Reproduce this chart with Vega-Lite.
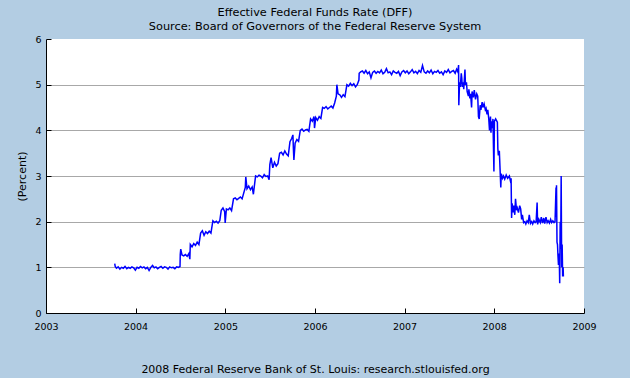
{
  "$schema": "https://vega.github.io/schema/vega-lite/v6.json",
  "width": 538,
  "height": 274,
  "autosize": {"type": "none"},
  "padding": {"left": 46, "top": 39, "right": 46, "bottom": 65},
  "background": "#B3CDE3",
  "config": {
    "font": "DejaVu Sans",
    "view": {"fill": "white", "stroke": null},
    "axis": {"domainColor": "black", "tickColor": "black", "labelColor": "black", "titleColor": "black", "labelFontSize": 9.5, "titleFontSize": 11, "titleFontWeight": "normal", "labelFont": "DejaVu Sans", "titleFont": "DejaVu Sans"}
  },
  "title": {
    "text": ["Effective Federal Funds Rate (DFF)", "Source: Board of Governors of the Federal Reserve System"],
    "fontSize": 11.3, "fontWeight": "normal", "font": "DejaVu Sans", "color": "black",
    "anchor": "middle", "frame": "group", "offset": 2, "lineHeight": 14
  },
  "data": {"values": [
    {"date":"2003-10-08","rate":1.08},{"date":"2003-10-10","rate":1.02},{"date":"2003-10-15","rate":0.98},{"date":"2003-10-22","rate":1.01},{"date":"2003-10-29","rate":0.96},
    {"date":"2003-11-05","rate":1.00},{"date":"2003-11-12","rate":0.98},{"date":"2003-11-19","rate":1.02},{"date":"2003-11-26","rate":0.97},
    {"date":"2003-12-03","rate":1.00},{"date":"2003-12-10","rate":0.98},{"date":"2003-12-17","rate":1.01},{"date":"2003-12-24","rate":0.99},{"date":"2003-12-31","rate":0.94},
    {"date":"2004-01-07","rate":1.00},{"date":"2004-01-14","rate":0.98},{"date":"2004-01-21","rate":1.02},{"date":"2004-01-28","rate":0.99},
    {"date":"2004-02-04","rate":1.01},{"date":"2004-02-11","rate":0.97},{"date":"2004-02-18","rate":1.00},{"date":"2004-02-25","rate":0.93},
    {"date":"2004-03-03","rate":1.00},{"date":"2004-03-10","rate":1.04},{"date":"2004-03-17","rate":0.99},{"date":"2004-03-24","rate":1.01},{"date":"2004-03-31","rate":0.97},
    {"date":"2004-04-07","rate":1.00},{"date":"2004-04-14","rate":1.02},{"date":"2004-04-21","rate":0.98},{"date":"2004-04-28","rate":1.01},
    {"date":"2004-05-05","rate":1.00},{"date":"2004-05-12","rate":0.96},{"date":"2004-05-19","rate":1.01},{"date":"2004-05-26","rate":0.99},
    {"date":"2004-06-02","rate":1.00},{"date":"2004-06-09","rate":0.97},{"date":"2004-06-16","rate":1.01},{"date":"2004-06-23","rate":1.00},{"date":"2004-06-30","rate":1.02},
    {"date":"2004-07-01","rate":1.28},{"date":"2004-07-03","rate":1.40},{"date":"2004-07-08","rate":1.27},{"date":"2004-07-15","rate":1.25},{"date":"2004-07-22","rate":1.28},{"date":"2004-07-29","rate":1.24},
    {"date":"2004-08-05","rate":1.30},{"date":"2004-08-09","rate":1.18},{"date":"2004-08-11","rate":1.50},{"date":"2004-08-18","rate":1.45},{"date":"2004-08-25","rate":1.52},
    {"date":"2004-09-01","rate":1.48},{"date":"2004-09-08","rate":1.55},{"date":"2004-09-15","rate":1.50},{"date":"2004-09-22","rate":1.75},{"date":"2004-09-29","rate":1.80},
    {"date":"2004-10-06","rate":1.70},{"date":"2004-10-13","rate":1.78},{"date":"2004-10-20","rate":1.74},{"date":"2004-10-27","rate":1.79},
    {"date":"2004-11-03","rate":1.75},{"date":"2004-11-11","rate":2.02},{"date":"2004-11-18","rate":1.98},{"date":"2004-11-25","rate":2.01},
    {"date":"2004-12-02","rate":1.97},{"date":"2004-12-09","rate":2.02},{"date":"2004-12-15","rate":2.25},{"date":"2004-12-22","rate":2.30},{"date":"2004-12-29","rate":2.22},{"date":"2004-12-31","rate":1.97},
    {"date":"2005-01-05","rate":2.28},{"date":"2005-01-12","rate":2.26},{"date":"2005-01-19","rate":2.30},{"date":"2005-01-26","rate":2.24},
    {"date":"2005-02-03","rate":2.50},{"date":"2005-02-10","rate":2.52},{"date":"2005-02-17","rate":2.48},{"date":"2005-02-24","rate":2.51},
    {"date":"2005-03-03","rate":2.54},{"date":"2005-03-10","rate":2.50},{"date":"2005-03-23","rate":2.75},{"date":"2005-03-25","rate":2.98},{"date":"2005-03-30","rate":2.72},
    {"date":"2005-04-06","rate":2.78},{"date":"2005-04-13","rate":2.70},{"date":"2005-04-20","rate":2.76},{"date":"2005-04-25","rate":2.60},{"date":"2005-04-28","rate":2.74},
    {"date":"2005-05-04","rate":3.00},{"date":"2005-05-11","rate":2.98},{"date":"2005-05-18","rate":3.02},{"date":"2005-05-25","rate":3.00},
    {"date":"2005-06-01","rate":2.96},{"date":"2005-06-08","rate":3.03},{"date":"2005-06-15","rate":2.99},{"date":"2005-06-22","rate":3.00},{"date":"2005-06-28","rate":2.92},
    {"date":"2005-07-01","rate":3.25},{"date":"2005-07-06","rate":3.40},{"date":"2005-07-13","rate":3.18},{"date":"2005-07-20","rate":3.30},{"date":"2005-07-27","rate":3.22},
    {"date":"2005-08-03","rate":3.27},{"date":"2005-08-10","rate":3.50},{"date":"2005-08-17","rate":3.52},{"date":"2005-08-24","rate":3.46},{"date":"2005-08-31","rate":3.55},
    {"date":"2005-09-07","rate":3.48},{"date":"2005-09-14","rate":3.44},{"date":"2005-09-21","rate":3.75},{"date":"2005-09-28","rate":3.82},
    {"date":"2005-10-03","rate":3.90},{"date":"2005-10-05","rate":3.60},{"date":"2005-10-07","rate":3.35},{"date":"2005-10-12","rate":3.72},{"date":"2005-10-19","rate":3.80},{"date":"2005-10-26","rate":3.76},
    {"date":"2005-11-02","rate":4.00},{"date":"2005-11-09","rate":4.03},{"date":"2005-11-16","rate":3.98},{"date":"2005-11-23","rate":4.01},{"date":"2005-11-30","rate":4.02},
    {"date":"2005-12-07","rate":3.98},{"date":"2005-12-14","rate":4.25},{"date":"2005-12-21","rate":4.20},{"date":"2005-12-28","rate":4.30},{"date":"2005-12-30","rate":4.05},
    {"date":"2006-01-04","rate":4.28},{"date":"2006-01-11","rate":4.22},{"date":"2006-01-18","rate":4.30},{"date":"2006-01-25","rate":4.26},
    {"date":"2006-02-01","rate":4.50},{"date":"2006-02-08","rate":4.48},{"date":"2006-02-15","rate":4.52},{"date":"2006-02-22","rate":4.47},
    {"date":"2006-03-01","rate":4.50},{"date":"2006-03-08","rate":4.53},{"date":"2006-03-15","rate":4.49},{"date":"2006-03-22","rate":4.60},{"date":"2006-03-29","rate":4.75},{"date":"2006-03-31","rate":5.00},
    {"date":"2006-04-05","rate":4.80},{"date":"2006-04-12","rate":4.78},{"date":"2006-04-19","rate":4.72},{"date":"2006-04-26","rate":4.78},
    {"date":"2006-05-03","rate":4.74},{"date":"2006-05-11","rate":5.00},{"date":"2006-05-18","rate":4.97},{"date":"2006-05-25","rate":5.03},
    {"date":"2006-06-01","rate":4.98},{"date":"2006-06-08","rate":5.02},{"date":"2006-06-15","rate":4.95},{"date":"2006-06-22","rate":5.00},{"date":"2006-06-29","rate":5.10},{"date":"2006-06-30","rate":5.25},
    {"date":"2006-07-06","rate":5.28},{"date":"2006-07-13","rate":5.30},{"date":"2006-07-20","rate":5.25},{"date":"2006-07-27","rate":5.31},
    {"date":"2006-08-03","rate":5.24},{"date":"2006-08-10","rate":5.28},{"date":"2006-08-17","rate":5.15},{"date":"2006-08-24","rate":5.27},{"date":"2006-08-31","rate":5.30},
    {"date":"2006-09-07","rate":5.25},{"date":"2006-09-14","rate":5.29},{"date":"2006-09-21","rate":5.26},{"date":"2006-09-28","rate":5.32},
    {"date":"2006-10-05","rate":5.24},{"date":"2006-10-12","rate":5.27},{"date":"2006-10-19","rate":5.35},{"date":"2006-10-26","rate":5.26},
    {"date":"2006-11-02","rate":5.28},{"date":"2006-11-09","rate":5.22},{"date":"2006-11-16","rate":5.30},{"date":"2006-11-23","rate":5.27},{"date":"2006-11-30","rate":5.25},
    {"date":"2006-12-07","rate":5.29},{"date":"2006-12-14","rate":5.20},{"date":"2006-12-21","rate":5.28},{"date":"2006-12-28","rate":5.31},
    {"date":"2007-01-04","rate":5.26},{"date":"2007-01-11","rate":5.30},{"date":"2007-01-18","rate":5.24},{"date":"2007-01-25","rate":5.28},
    {"date":"2007-02-01","rate":5.33},{"date":"2007-02-08","rate":5.26},{"date":"2007-02-15","rate":5.29},{"date":"2007-02-22","rate":5.24},
    {"date":"2007-03-01","rate":5.31},{"date":"2007-03-08","rate":5.27},{"date":"2007-03-15","rate":5.42},{"date":"2007-03-22","rate":5.28},{"date":"2007-03-29","rate":5.25},
    {"date":"2007-04-05","rate":5.30},{"date":"2007-04-12","rate":5.26},{"date":"2007-04-19","rate":5.32},{"date":"2007-04-26","rate":5.24},
    {"date":"2007-05-03","rate":5.29},{"date":"2007-05-10","rate":5.27},{"date":"2007-05-17","rate":5.31},{"date":"2007-05-24","rate":5.25},{"date":"2007-05-31","rate":5.28},
    {"date":"2007-06-07","rate":5.22},{"date":"2007-06-14","rate":5.30},{"date":"2007-06-21","rate":5.27},{"date":"2007-06-28","rate":5.33},
    {"date":"2007-07-05","rate":5.26},{"date":"2007-07-12","rate":5.29},{"date":"2007-07-19","rate":5.31},{"date":"2007-07-26","rate":5.25},
    {"date":"2007-08-01","rate":5.34},{"date":"2007-08-06","rate":5.28},{"date":"2007-08-09","rate":5.43},{"date":"2007-08-10","rate":4.55},{"date":"2007-08-13","rate":5.05},
    {"date":"2007-08-16","rate":4.95},{"date":"2007-08-20","rate":5.25},{"date":"2007-08-22","rate":5.15},{"date":"2007-08-24","rate":4.95},{"date":"2007-08-28","rate":5.05},{"date":"2007-08-30","rate":4.90},
    {"date":"2007-09-04","rate":5.33},{"date":"2007-09-06","rate":5.00},{"date":"2007-09-10","rate":5.05},{"date":"2007-09-13","rate":4.85},{"date":"2007-09-18","rate":4.75},
    {"date":"2007-09-20","rate":4.90},{"date":"2007-09-24","rate":4.70},{"date":"2007-09-27","rate":4.80},
    {"date":"2007-10-01","rate":4.50},{"date":"2007-10-03","rate":4.85},{"date":"2007-10-08","rate":4.72},{"date":"2007-10-12","rate":4.88},{"date":"2007-10-17","rate":4.68},
    {"date":"2007-10-22","rate":4.80},{"date":"2007-10-26","rate":4.75},{"date":"2007-10-29","rate":4.30},
    {"date":"2007-11-01","rate":4.25},{"date":"2007-11-05","rate":4.55},{"date":"2007-11-08","rate":4.45},{"date":"2007-11-13","rate":4.62},{"date":"2007-11-16","rate":4.50},
    {"date":"2007-11-21","rate":4.58},{"date":"2007-11-26","rate":4.45},{"date":"2007-11-29","rate":4.48},
    {"date":"2007-12-03","rate":4.35},{"date":"2007-12-06","rate":4.45},{"date":"2007-12-10","rate":4.25},{"date":"2007-12-13","rate":4.00},{"date":"2007-12-17","rate":4.30},
    {"date":"2007-12-19","rate":3.95},{"date":"2007-12-21","rate":4.20},{"date":"2007-12-24","rate":4.05},{"date":"2007-12-27","rate":4.25},{"date":"2007-12-31","rate":3.10},
    {"date":"2008-01-02","rate":4.20},{"date":"2008-01-07","rate":4.25},{"date":"2008-01-10","rate":4.22},{"date":"2008-01-14","rate":4.18},{"date":"2008-01-16","rate":3.60},
    {"date":"2008-01-18","rate":3.45},{"date":"2008-01-22","rate":3.55},{"date":"2008-01-25","rate":3.15},{"date":"2008-01-28","rate":2.75},{"date":"2008-01-30","rate":3.05},
    {"date":"2008-02-04","rate":2.95},{"date":"2008-02-08","rate":3.00},{"date":"2008-02-13","rate":2.93},{"date":"2008-02-19","rate":3.02},{"date":"2008-02-25","rate":2.95},
    {"date":"2008-03-03","rate":3.00},{"date":"2008-03-07","rate":2.90},{"date":"2008-03-10","rate":2.95},{"date":"2008-03-12","rate":2.08},{"date":"2008-03-14","rate":2.40},
    {"date":"2008-03-18","rate":2.20},{"date":"2008-03-21","rate":2.35},{"date":"2008-03-25","rate":2.15},{"date":"2008-03-28","rate":2.50},
    {"date":"2008-04-01","rate":2.25},{"date":"2008-04-04","rate":2.30},{"date":"2008-04-09","rate":2.20},{"date":"2008-04-14","rate":2.35},{"date":"2008-04-18","rate":2.28},
    {"date":"2008-04-22","rate":2.05},{"date":"2008-04-25","rate":2.15},{"date":"2008-04-30","rate":1.98},
    {"date":"2008-05-05","rate":2.00},{"date":"2008-05-09","rate":1.95},{"date":"2008-05-14","rate":2.02},{"date":"2008-05-19","rate":1.98},{"date":"2008-05-23","rate":2.15},{"date":"2008-05-28","rate":1.96},
    {"date":"2008-06-02","rate":2.00},{"date":"2008-06-06","rate":1.95},{"date":"2008-06-11","rate":2.02},{"date":"2008-06-16","rate":1.98},{"date":"2008-06-20","rate":2.00},
    {"date":"2008-06-24","rate":2.42},{"date":"2008-06-26","rate":1.94},
    {"date":"2008-07-01","rate":2.05},{"date":"2008-07-07","rate":1.98},{"date":"2008-07-11","rate":2.10},{"date":"2008-07-16","rate":1.97},{"date":"2008-07-21","rate":2.08},
    {"date":"2008-07-25","rate":1.96},{"date":"2008-07-30","rate":2.10},
    {"date":"2008-08-04","rate":1.98},{"date":"2008-08-08","rate":2.02},{"date":"2008-08-13","rate":1.97},{"date":"2008-08-18","rate":2.05},{"date":"2008-08-22","rate":1.98},{"date":"2008-08-27","rate":2.02},
    {"date":"2008-09-01","rate":1.98},{"date":"2008-09-05","rate":2.00},{"date":"2008-09-09","rate":2.75},{"date":"2008-09-10","rate":2.10},{"date":"2008-09-11","rate":2.80},
    {"date":"2008-09-13","rate":1.55},{"date":"2008-09-15","rate":1.50},{"date":"2008-09-17","rate":1.25},{"date":"2008-09-19","rate":1.05},{"date":"2008-09-22","rate":1.30},
    {"date":"2008-09-24","rate":0.65},{"date":"2008-09-26","rate":2.00},{"date":"2008-09-28","rate":1.40},{"date":"2008-09-30","rate":3.00},
    {"date":"2008-10-02","rate":1.00},{"date":"2008-10-04","rate":1.50},{"date":"2008-10-06","rate":0.80},{"date":"2008-10-08","rate":1.00},{"date":"2008-10-09","rate":0.80}
  ]},
  "mark": {"type": "line", "color": "#0000FF", "strokeWidth": 1.5, "interpolate": "linear"},
  "encoding": {
    "x": {
      "field": "date", "type": "temporal",
      "scale": {"domain": ["2003-01-01T00:00:00", "2009-01-01T00:00:00"], "nice": false},
      "axis": {
        "format": "%Y", "tickCount": {"interval": "year", "step": 1},
        "grid": false, "tickSize": -5, "labelPadding": 13, "labelFlush": false, "labelOverlap": false,
        "title": "2008 Federal Reserve Bank of St. Louis: research.stlouisfed.org",
        "titlePadding": 33, "titleFontSize": 11
      }
    },
    "y": {
      "field": "rate", "type": "quantitative",
      "scale": {"domain": [0, 6], "nice": false},
      "axis": {
        "values": [0, 1, 2, 3, 4, 5, 6], "format": "d",
        "grid": true,
        "gridColor": {"condition": {"test": "datum.value == 0 || datum.value == 6", "value": "transparent"}, "value": "#A8A8A8"},
        "gridWidth": 1.2,
        "tickSize": -5, "labelPadding": 10,
        "title": "(Percent)", "titlePadding": 7
      }
    }
  }
}
